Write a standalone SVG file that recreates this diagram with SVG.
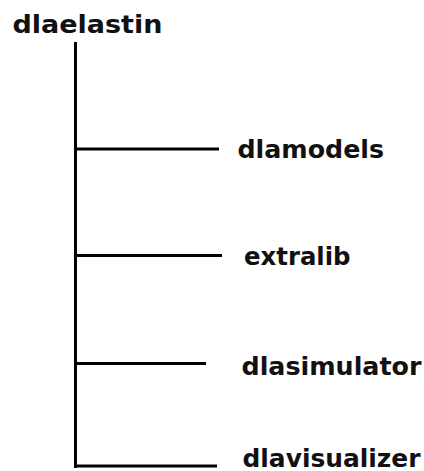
<svg xmlns="http://www.w3.org/2000/svg" width="424" height="471" viewBox="0 0 424 471">
<style>
text{font-family:"DejaVu Sans","Liberation Sans",sans-serif;font-weight:bold;fill:#111;}
.t{font-size:25px;}
.c{font-size:24px;}
line{stroke:#000;stroke-width:3;stroke-linecap:butt;}
</style>
<rect width="424" height="471" fill="#fff"/>
<g id="connectors">
<line x1="75.5" y1="42" x2="75.5" y2="468"/>
<line x1="74" y1="149" x2="219" y2="149"/>
<line x1="74" y1="255.5" x2="222" y2="255.5"/>
<line x1="74" y1="363.5" x2="206" y2="363.5"/>
<line x1="74" y1="466" x2="217" y2="466"/>
</g>
<g id="dlaelastin"><text class="t" x="12.5" y="32.5" textLength="150" lengthAdjust="spacingAndGlyphs">dlaelastin</text></g>
<g id="dlamodels"><text class="c" x="237.5" y="157.5" textLength="146.5" lengthAdjust="spacingAndGlyphs">dlamodels</text></g>
<g id="extralib"><text class="c" x="244" y="265" textLength="106.5" lengthAdjust="spacingAndGlyphs">extralib</text></g>
<g id="dlasimulator"><text class="c" x="241.5" y="375" textLength="180" lengthAdjust="spacingAndGlyphs">dlasimulator</text></g>
<g id="dlavisualizer"><text class="c" x="242.5" y="467" textLength="178" lengthAdjust="spacingAndGlyphs">dlavisualizer</text></g>
</svg>
